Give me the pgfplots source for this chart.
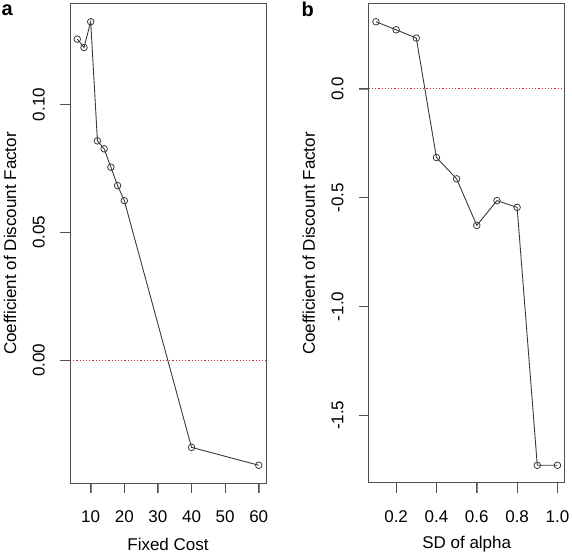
\documentclass[border=0pt]{standalone}
\usepackage{pgfplots}
\pgfplotsset{compat=1.18}
\usepackage{fontspec}
\setmainfont{Liberation Sans}
\definecolor{axgray}{HTML}{505050}
\definecolor{lngray}{HTML}{3A3A3A}
\definecolor{rdot}{RGB}{200,40,40}
\newcommand{\rt}[1]{\rotatebox{90}{#1}}
\tikzset{rtick/.style={draw=axgray, line width=1bp}}
\pgfplotsset{
  rpanel/.style={
    scale only axis, width=196bp, height=479bp,
    anchor=south west, clip=false,
    axis line style={axgray, line width=1bp},
    xtick pos=bottom, ytick pos=left, tick align=outside, major tick length=10bp,
    font=\fontsize{17bp}{20bp}\selectfont,
    yticklabel style={anchor=east, inner sep=0pt},
    xticklabel style={anchor=north, inner sep=0pt},
    yticklabel shift=15bp, xticklabel shift=17bp,
    every axis y label/.style={at={(axis description cs:-0.306,0.5)}, rotate=90, anchor=center},
    every axis x label/.style={at={(axis description cs:0.5,-0.1273)}, anchor=center},
  },
  rline/.style={lngray, line width=0.9bp, mark=o, mark size=3.3bp, mark options={solid, lngray, line width=0.8bp}},
  rzero/.style={rdot, line width=1bp, dash pattern=on 1.2bp off 2bp},
}
\begin{document}
\begin{tikzpicture}
\useasboundingbox (0,0) rectangle (572bp,554bp);
\begin{axis}[rpanel, at={(70bp,71bp)},
  xmin=3.84, xmax=62.16, ymin=-0.04804, ymax=0.13934,
  xtick={10,20,30,40,50,60}, xticklabels={10,20,30,40,50,60},
  ytick={0,0.05,0.10}, yticklabels={\rt{0.00},\rt{0.05},\rt{0.10}},
  xlabel={Fixed Cost}, ylabel={Coefficient of Discount Factor}]
\addplot[rzero] coordinates {(3.84,0) (62.16,0)};
\addplot[rline] coordinates {(6,0.1256) (8,0.1223) (10,0.1324) (12,0.0858) (14,0.0827) (16,0.0755) (18,0.0683) (20,0.0624) (40,-0.0341) (60,-0.0411)};
\draw[rtick] (axis cs:10,-0.04804) -- (axis cs:10,-0.05195);
\draw[rtick] (axis cs:20,-0.04804) -- (axis cs:20,-0.05195);
\draw[rtick] (axis cs:30,-0.04804) -- (axis cs:30,-0.05195);
\draw[rtick] (axis cs:40,-0.04804) -- (axis cs:40,-0.05195);
\draw[rtick] (axis cs:50,-0.04804) -- (axis cs:50,-0.05195);
\draw[rtick] (axis cs:60,-0.04804) -- (axis cs:60,-0.05195);
\draw[rtick] (axis cs:3.84,0) -- (axis cs:0.8645,0);
\draw[rtick] (axis cs:3.84,0.05) -- (axis cs:0.8645,0.05);
\draw[rtick] (axis cs:3.84,0.10) -- (axis cs:0.8645,0.10);
\end{axis}
\begin{axis}[rpanel, at={(368.7bp,71bp)},
  xmin=0.064, xmax=1.036, ymin=-1.8115, ymax=0.3895,
  xtick={0.2,0.4,0.6,0.8,1.0}, xticklabels={0.2,0.4,0.6,0.8,1.0},
  ytick={-1.5,-1.0,-0.5,0}, yticklabels={\rt{-1.5},\rt{-1.0},\rt{-0.5},\rt{0.0}},
  xlabel={SD of alpha}, ylabel={Coefficient of Discount Factor}]
\addplot[rzero] coordinates {(0.064,0) (1.036,0)};
\addplot[rline] coordinates {(0.1,0.308) (0.2,0.271) (0.3,0.233) (0.4,-0.316) (0.5,-0.414) (0.6,-0.628) (0.7,-0.514) (0.8,-0.545) (0.9,-1.730) (1.0,-1.730)};
\draw[rtick] (axis cs:0.2,-1.8115) -- (axis cs:0.2,-1.85745);
\draw[rtick] (axis cs:0.4,-1.8115) -- (axis cs:0.4,-1.85745);
\draw[rtick] (axis cs:0.6,-1.8115) -- (axis cs:0.6,-1.85745);
\draw[rtick] (axis cs:0.8,-1.8115) -- (axis cs:0.8,-1.85745);
\draw[rtick] (axis cs:1.0,-1.8115) -- (axis cs:1.0,-1.85745);
\draw[rtick] (axis cs:0.064,0) -- (axis cs:0.01441,0);
\draw[rtick] (axis cs:0.064,-0.5) -- (axis cs:0.01441,-0.5);
\draw[rtick] (axis cs:0.064,-1.0) -- (axis cs:0.01441,-1.0);
\draw[rtick] (axis cs:0.064,-1.5) -- (axis cs:0.01441,-1.5);
\end{axis}
\node[anchor=base west, inner sep=0pt, font=\fontsize{20bp}{22bp}\selectfont\bfseries] at (1.5bp,538bp) {a};
\node[anchor=base west, inner sep=0pt, font=\fontsize{20bp}{22bp}\selectfont\bfseries] at (301.5bp,537bp) {b};
\end{tikzpicture}
\end{document}
